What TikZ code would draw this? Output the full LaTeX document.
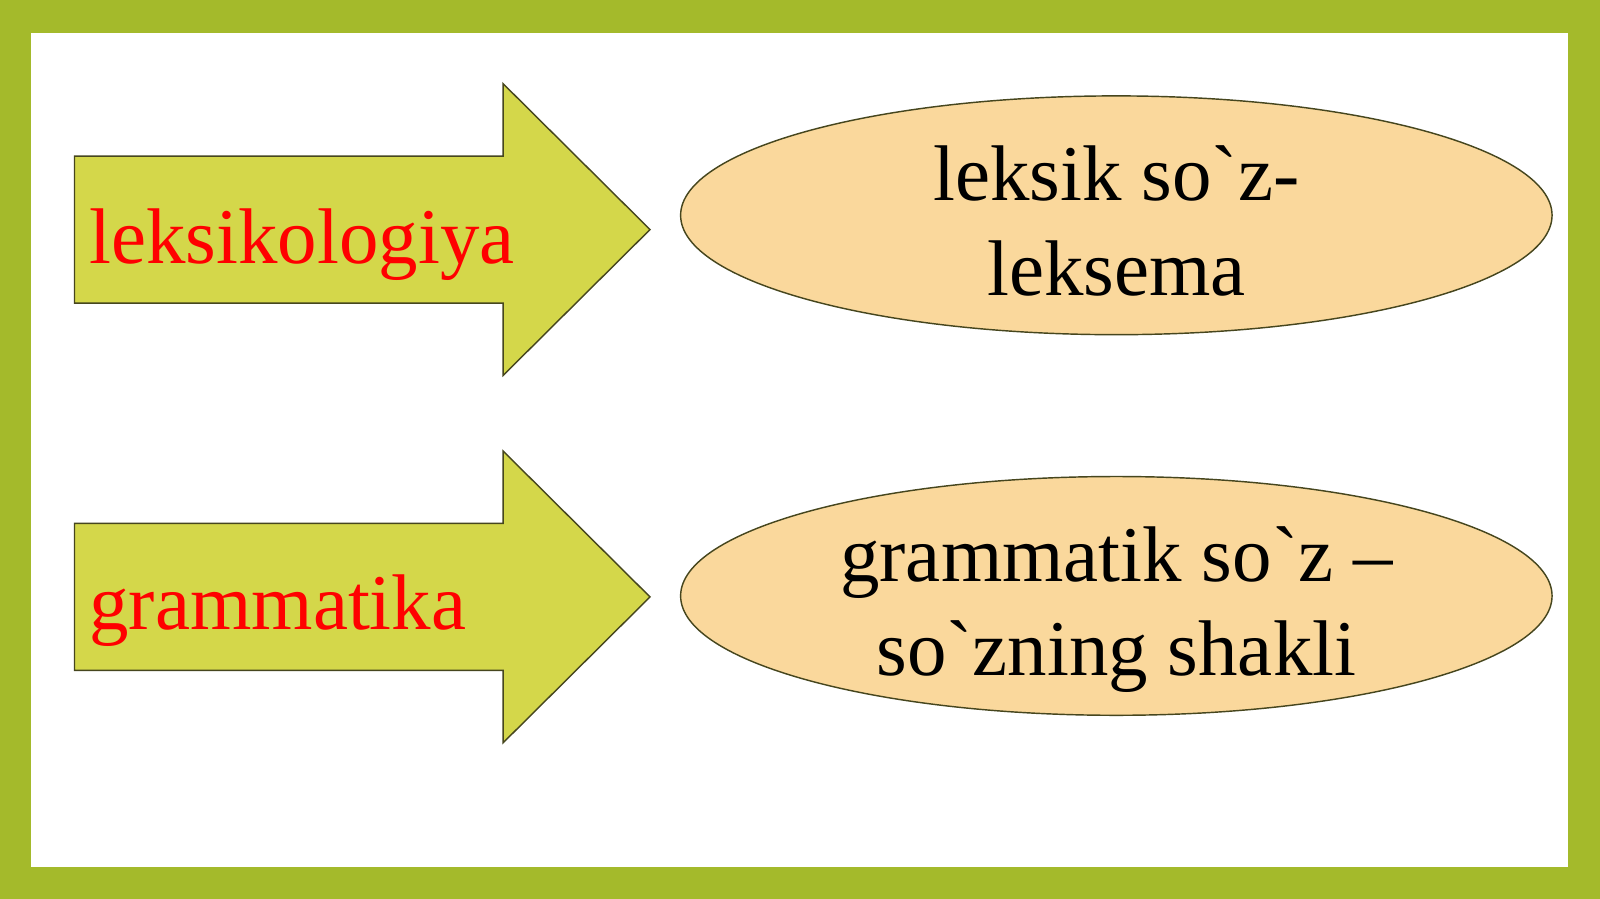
\documentclass[tikz,border=0pt]{standalone}
\usepackage{fontspec}
\setmainfont{Liberation Serif}[Ligatures=TeXOff]
\usetikzlibrary{shapes.geometric}

\definecolor{frame}{RGB}{164,186,43}
\definecolor{arrowfill}{RGB}{212,215,74}
\definecolor{ovalfill}{RGB}{250,216,156}
\definecolor{edge}{RGB}{70,70,30}

\tikzset{
  bigarrow/.style={fill=arrowfill,draw=edge,thin},
  oval/.style={ellipse,fill=ovalfill,draw=edge,thin,minimum width=8.54cm,
    minimum height=2.34cm,inner sep=0pt},
  ovaltext/.style={inner sep=0pt,align=center,text depth=0pt,
    font=\fontsize{22}{26.4}\selectfont},
  label/.style={anchor=base west,inner sep=0pt,text=red,font=\fontsize{22}{27}\selectfont}
}

\begin{document}
\begin{tikzpicture}
  \fill[frame] (0,0) rectangle (15.68,8.81);
  \fill[white] (0.30,0.31) rectangle (15.37,8.49);

  %% Arrows
  \draw[bigarrow] (0.73,7.28) -- (4.93,7.28) -- (4.93,7.99) -- (6.37,6.56)
    -- (4.93,5.13) -- (4.93,5.84) -- (0.73,5.84) -- cycle;
  \draw[bigarrow] (0.73,3.68) -- (4.93,3.68) -- (4.93,4.39) -- (6.37,2.96)
    -- (4.93,1.53) -- (4.93,2.24) -- (0.73,2.24) -- cycle;

  \node[label] (leks) at (0.87,6.23) {leksikologiya};
  \node[label] (gram) at (0.87,2.64) {grammatika};

  %% Ovals
  \node[oval] (leksema) at (10.94,6.70) {};
  \node[oval] (shakl) at (10.94,2.97) {};
  \node[ovaltext] (leksemaText) at ([yshift=-0.05cm]leksema.center) {leksik so`z-\\leksema};
  \node[ovaltext] (shaklText) at ([yshift=-0.05cm]shakl.center) {grammatik so`z –\\so`zning shakli};

\end{tikzpicture}
\end{document}
